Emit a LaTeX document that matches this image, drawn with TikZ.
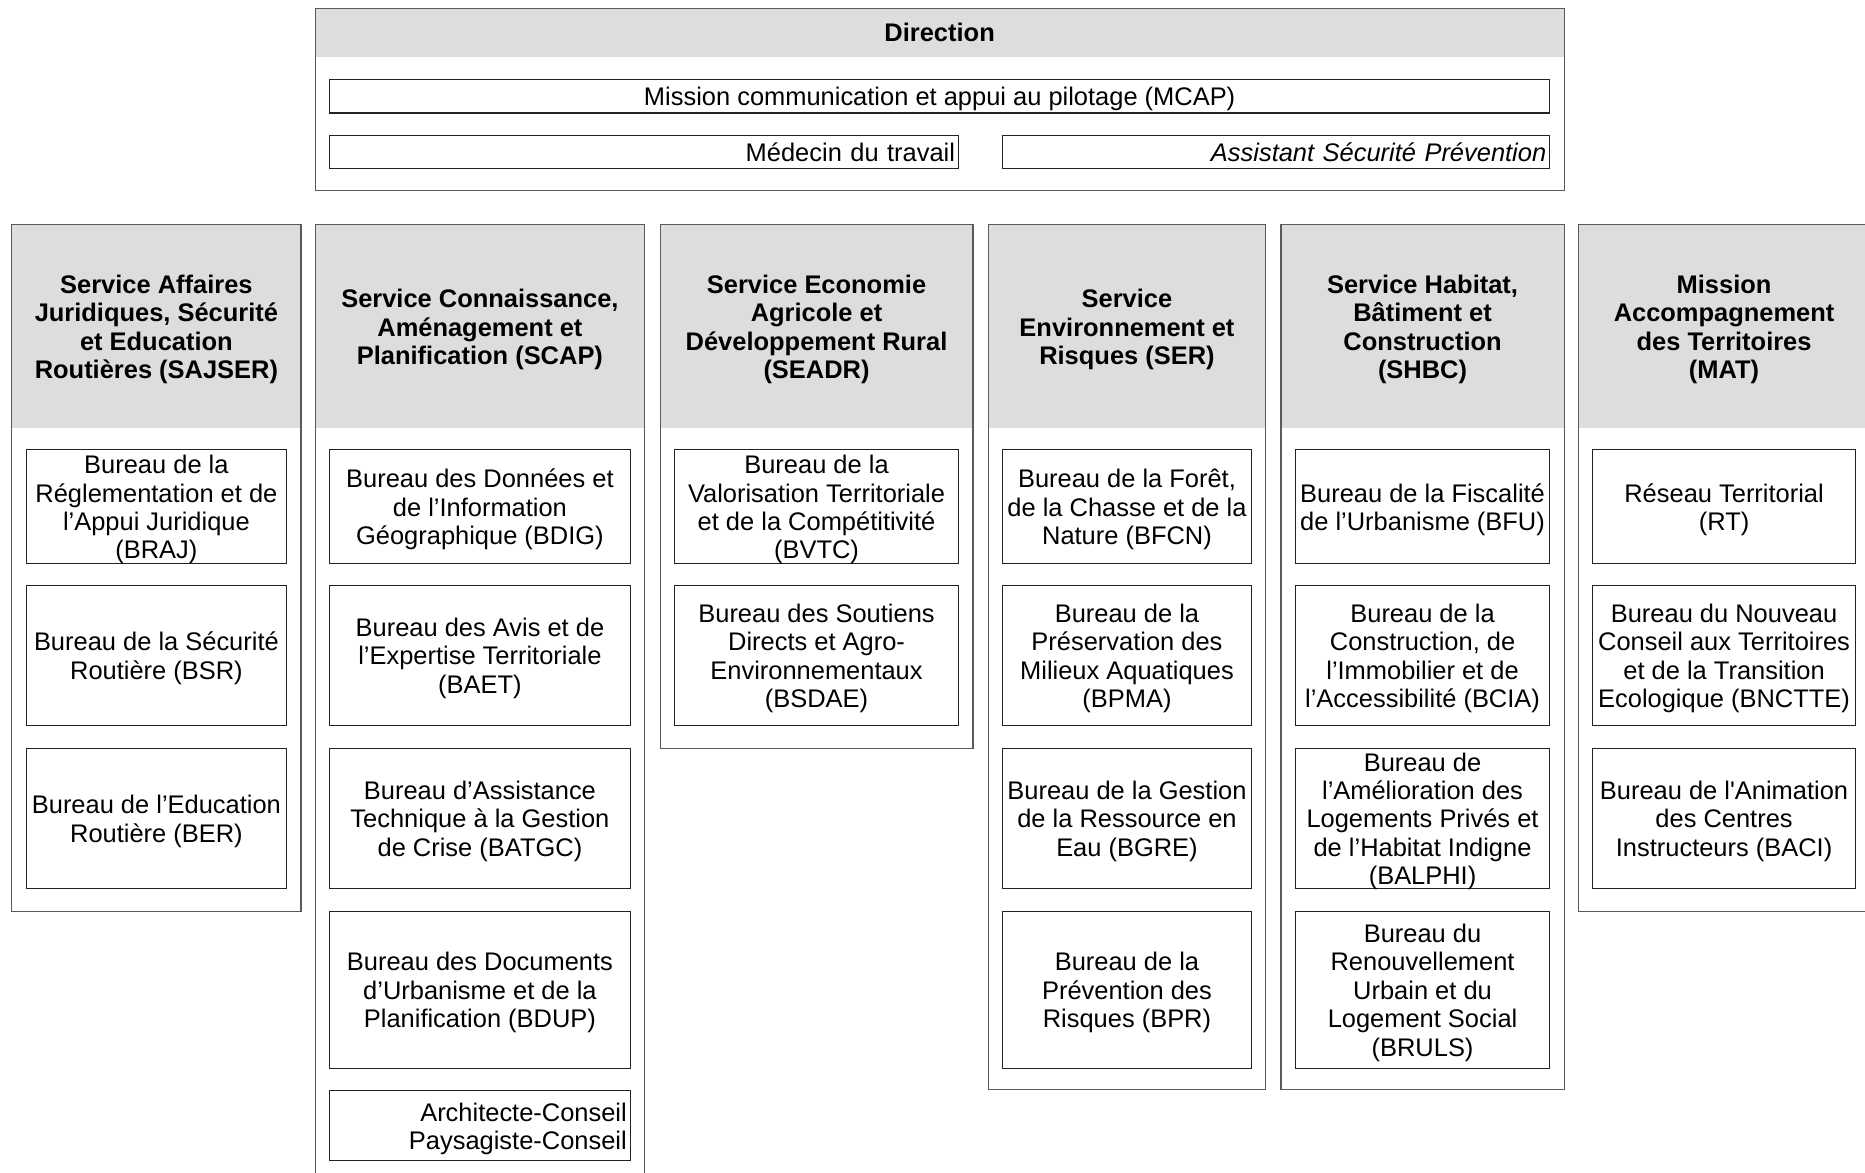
\documentclass[tikz,border=0pt]{standalone}
\usepackage{fontspec}
\setmainfont{Liberation Sans}
\definecolor{hdrc}{HTML}{DDDDDD}
\definecolor{outerc}{HTML}{5A5A5A}
\definecolor{innerc}{HTML}{222222}
\newcommand{\ibox}[6]{%
  \node[innerbox, minimum width={#4-#2}, minimum height={#5-#3}] (#1) at ({(#2+#3*0+#4)/2},{(#3+#5)/2}) {};
  \node[ctext] (#1t) at (#1.center) {#6};}
\newcommand{\svc}[5]{%
  \node[hdrbox, minimum width={#3-#2}, minimum height=171] (#1h) at ({(#2+#3)/2},274.5) {};
  \node[htext] (#1ht) at (#1h.center) {#5};
  \node[outerbox, minimum width={#3-#2}, minimum height={#4-189}] (#1) at ({(#2+#3)/2},{(189+#4)/2}) {};}
\begin{document}
\begin{tikzpicture}[x=1pt,y=-1pt,
  every node/.style={font=\fontsize{21.4}{23.9}\selectfont, text=black},
  innerbox/.style={draw=innerc, line width=1pt, inner sep=0pt, fill=white},
  ctext/.style={inner sep=0pt, align=center, yshift=-2.5pt},
  hdrbox/.style={fill=hdrc, inner sep=0pt},
  htext/.style={inner sep=0pt, align=center, yshift=-2.5pt, font=\fontsize{21.4}{23.9}\selectfont\bfseries},
  outerbox/.style={draw=outerc, line width=1pt, inner sep=0pt},
  rbox/.style={draw=innerc, line width=1pt, inner ysep=0pt, inner xsep=3pt, align=right, fill=white}]
\useasboundingbox (0,0) rectangle (1568,986);
\fill[white] (0,0) rectangle (1568,986);
\begin{scope}
\clip (0,0) rectangle (1568,986);
% Direction
\node[hdrbox, minimum width=1050, minimum height=41] (dirh) at (790,27.5) {};
\node[inner sep=0pt, font=\fontsize{21.4}{23.9}\selectfont\bfseries] (dirt) at (dirh.center) {Direction};
\node[outerbox, minimum width=1050, minimum height=153] (dir) at (790,83.5) {};
\ibox{mcap}{277}{67}{1303}{95}{Mission communication et appui au pilotage (MCAP)}
\node[rbox, minimum height=28, text width=523] (med) at (541.5,128) {Médecin du travail};
\node[rbox, minimum height=28, text width=454, font=\fontsize{21.4}{23.9}\selectfont\itshape] (asp) at (1073,128) {Assistant Sécurité Prévention};
% Services
\svc{sajser}{10}{253}{766}{Service Affaires\\Juridiques, Sécurité\\et Education\\Routières (SAJSER)}
\svc{scap}{265}{542}{995}{Service Connaissance,\\Aménagement et\\Planification (SCAP)}
\svc{seadr}{555}{818}{629}{Service Economie\\Agricole et\\Développement Rural\\(SEADR)}
\svc{ser}{831}{1064}{916}{Service\\Environnement et\\Risques (SER)}
\svc{shbc}{1077}{1315}{916}{Service Habitat,\\Bâtiment et\\Construction\\(SHBC)}
\svc{mat}{1327}{1572}{766}{Mission\\Accompagnement\\des Territoires\\(MAT)}
% SAJSER
\ibox{braj}{22}{378}{241}{474}{Bureau de la\\Réglementation et de\\l’Appui Juridique\\(BRAJ)}
\ibox{bsr}{22}{492}{241}{610}{Bureau de la Sécurité\\Routière (BSR)}
\ibox{ber}{22}{629}{241}{747}{Bureau de l’Education\\Routière (BER)}
% SCAP
\ibox{bdig}{277}{378}{530}{474}{Bureau des Données et\\de l’Information\\Géographique (BDIG)}
\ibox{baet}{277}{492}{530}{610}{Bureau des Avis et de\\l’Expertise Territoriale\\(BAET)}
\ibox{batgc}{277}{629}{530}{747}{Bureau d’Assistance\\Technique à la Gestion\\de Crise (BATGC)}
\ibox{bdup}{277}{766}{530}{898}{Bureau des Documents\\d’Urbanisme et de la\\Planification (BDUP)}
\node[innerbox, minimum width=253, minimum height=59] (arch) at (403.5,946.5) {};
\node[inner xsep=3pt, inner ysep=0pt, text width=247, align=right, yshift=-2.5pt] (archt) at (arch.center) {Architecte-Conseil\\Paysagiste-Conseil};
% SEADR
\ibox{bvtc}{567}{378}{806}{474}{Bureau de la\\Valorisation Territoriale\\et de la Compétitivité\\(BVTC)}
\ibox{bsdae}{567}{492}{806}{610}{Bureau des Soutiens\\Directs et Agro-\\Environnementaux\\(BSDAE)}
% SER
\ibox{bfcn}{843}{378}{1052}{474}{Bureau de la Forêt,\\de la Chasse et de la\\Nature (BFCN)}
\ibox{bpma}{843}{492}{1052}{610}{Bureau de la\\Préservation des\\Milieux Aquatiques\\(BPMA)}
\ibox{bgre}{843}{629}{1052}{747}{Bureau de la Gestion\\de la Ressource en\\Eau (BGRE)}
\ibox{bpr}{843}{766}{1052}{898}{Bureau de la\\Prévention des\\Risques (BPR)}
% SHBC
\ibox{bfu}{1089}{378}{1303}{474}{Bureau de la Fiscalité\\de l’Urbanisme (BFU)}
\ibox{bcia}{1089}{492}{1303}{610}{Bureau de la\\Construction, de\\l’Immobilier et de\\l’Accessibilité (BCIA)}
\ibox{balphi}{1089}{629}{1303}{747}{Bureau de\\l’Amélioration des\\Logements Privés et\\de l’Habitat Indigne\\(BALPHI)}
\ibox{bruls}{1089}{766}{1303}{898}{Bureau du\\Renouvellement\\Urbain et du\\Logement Social\\(BRULS)}
% MAT
\ibox{rt}{1339}{378}{1560}{474}{Réseau Territorial\\(RT)}
\ibox{bnctte}{1339}{492}{1560}{610}{Bureau du Nouveau\\Conseil aux Territoires\\et de la Transition\\Ecologique (BNCTTE)}
\ibox{baci}{1339}{629}{1560}{747}{Bureau de l\textquotesingle Animation\\des Centres\\Instructeurs (BACI)}
\end{scope}
\end{tikzpicture}
\end{document}
